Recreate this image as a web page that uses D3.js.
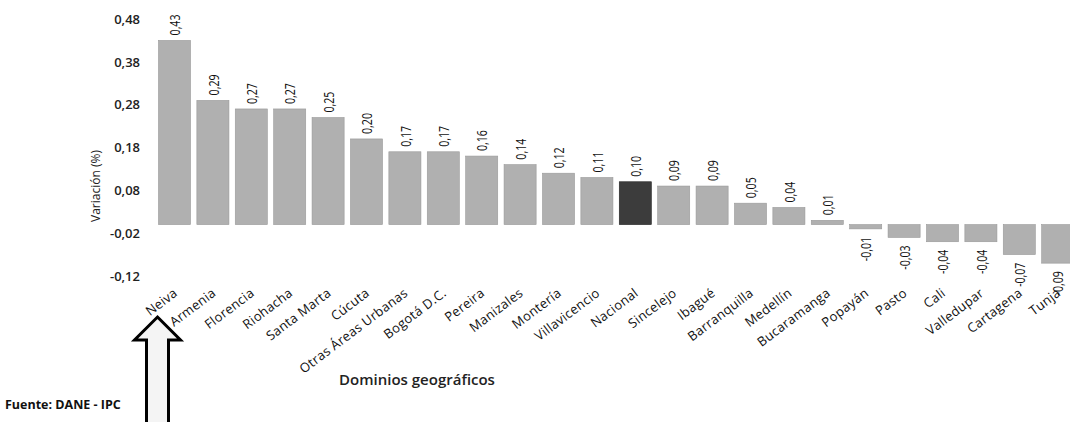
<!DOCTYPE html>
<html>
<head>
<meta charset="utf-8">
<script src="https://cdn.jsdelivr.net/npm/d3@7"></script>
<style>
  html, body { margin: 0; padding: 0; background: #fff; }
  svg { display: block; }
  text { font-family: "Open Sans", "Noto Sans", sans-serif; }
</style>
</head>
<body>
<svg id="chart" width="1070" height="422"></svg>
<script>
const categories = ["Neiva","Armenia","Florencia","Riohacha","Santa Marta","Cúcuta","Otras Áreas Urbanas","Bogotá D.C.","Pereira","Manizales","Montería","Villavicencio","Nacional","Sincelejo","Ibagué","Barranquilla","Medellín","Bucaramanga","Popayán","Pasto","Cali","Valledupar","Cartagena","Tunja"];
const values = [0.43,0.29,0.27,0.27,0.25,0.20,0.17,0.17,0.16,0.14,0.12,0.11,0.10,0.09,0.09,0.05,0.04,0.01,-0.01,-0.03,-0.04,-0.04,-0.07,-0.09];
const highlight = ["Nacional"];
const yTicks = [-0.12,-0.02,0.08,0.18,0.28,0.38,0.48];
const yTitle = "Variación (%)";
const xTitle = "Dominios geográficos";
const source = "Fuente: DANE - IPC";

const svg = d3.select("#chart");
const fmt = v => d3.format(".2f")(v).replace(".", ",").replace("−", "-");

const x = d3.scaleBand().domain(categories).range([155.3, 1076.9]).paddingInner(0.165).paddingOuter(0.0825);
const y = d3.scaleLinear().domain([-0.12, 0.48]).range([276, 19]);

const data = categories.map((c, i) => ({ c, v: values[i] }));

// bars
svg.append("g").selectAll("rect").data(data).join("rect")
  .attr("x", d => x(d.c))
  .attr("width", x.bandwidth())
  .attr("y", d => y(Math.max(0, d.v)))
  .attr("height", d => Math.max(1.5, Math.abs(y(d.v) - y(0))))
  .attr("fill", d => highlight.includes(d.c) ? "#3c3c3c" : "#b0b0b0")
  .attr("stroke", d => highlight.includes(d.c) ? "#222" : "#999")
  .attr("stroke-width", 0.6);

// value labels
svg.append("g").selectAll("text").data(data).join("text")
  .attr("transform", d => {
    const cx = x(d.c) + x.bandwidth() / 2;
    const yy = d.v >= 0 ? y(d.v) - 5 : y(d.v) + 8;
    return `translate(${cx},${yy}) rotate(-90) scale(0.92,1.3)`;
  })
  .attr("text-anchor", d => d.v >= 0 ? "start" : "end")
  .attr("dominant-baseline", "central")
  .attr("font-size", 11.5)
  .attr("fill", "#111")
  .text(d => fmt(d.v));

// y axis (labels only)
const yAxis = d3.axisLeft(y).tickValues(yTicks).tickFormat(fmt).tickSize(0).tickPadding(0);
const gy = svg.append("g").attr("transform", "translate(140,0)").call(yAxis);
gy.select(".domain").remove();
gy.selectAll("text").attr("font-size", 13).attr("font-weight", 600).attr("fill", "#222")
  .attr("font-family", "'Open Sans', sans-serif");

// x axis labels
const xAxis = d3.axisBottom(x).tickSize(0).tickPadding(0);
const gx = svg.append("g").attr("transform", "translate(0,287)").call(xAxis);
gx.select(".domain").remove();
gx.selectAll("text")
  .attr("font-size", 13)
  .attr("letter-spacing", 0.3)
  .attr("fill", "#111")
  .attr("font-family", "'Open Sans', sans-serif")
  .attr("text-anchor", "end")
  .attr("dy", "0.75em")
  .attr("dx", 0)
  .attr("y", 0)
  .attr("transform", "translate(-2,0) rotate(-37)");

// axis titles
svg.append("text")
  .attr("transform", "translate(95,186) rotate(-90)")
  .attr("text-anchor", "middle").attr("dominant-baseline", "central")
  .attr("font-size", 12).attr("fill", "#222").text(yTitle);

svg.append("text")
  .attr("x", 417).attr("y", 385)
  .attr("text-anchor", "middle")
  .attr("font-size", 15).attr("font-weight", 600).attr("fill", "#222").text(xTitle);

svg.append("text")
  .attr("x", 5).attr("y", 409)
  .attr("font-size", 12.5).attr("font-weight", 700).attr("fill", "#111").text(source);

// annotation arrow pointing at first category
const ax = x(categories[0]) + x.bandwidth() / 2 - 17;
const tipY = 317, headY = 340, headW = 23, shaftW = 11;
const arrow = d3.path();
arrow.moveTo(ax, tipY);
arrow.lineTo(ax + headW, headY);
arrow.lineTo(ax + shaftW, headY);
arrow.lineTo(ax + shaftW, 430);
arrow.lineTo(ax - shaftW, 430);
arrow.lineTo(ax - shaftW, headY);
arrow.lineTo(ax - headW, headY);
arrow.closePath();
svg.append("path").attr("d", arrow.toString())
  .attr("fill", "#f4f4f4").attr("stroke", "#000").attr("stroke-width", 3).attr("stroke-linejoin", "miter");
</script>
</body>
</html>
